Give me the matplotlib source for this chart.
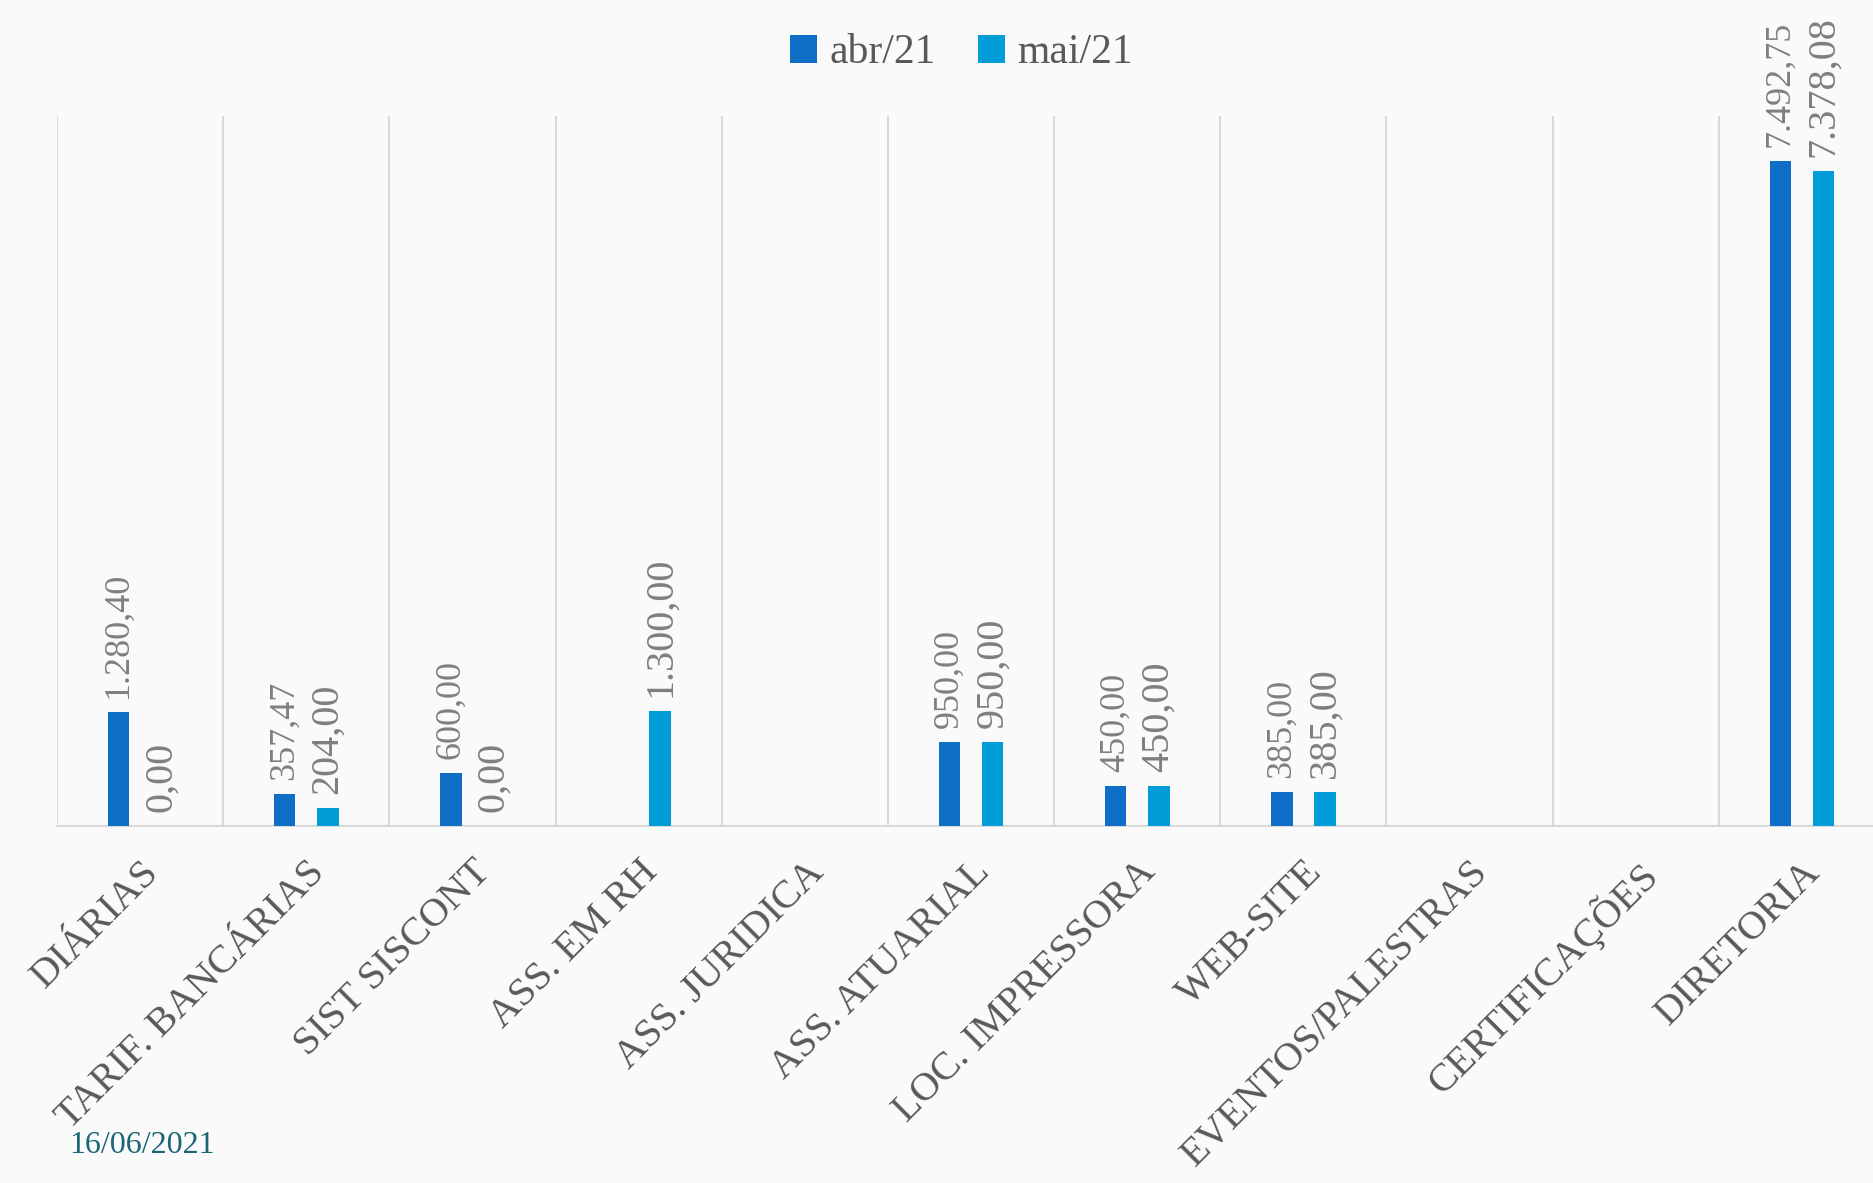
import matplotlib
matplotlib.use("Agg")
import matplotlib.pyplot as plt
import numpy as np

categories = ["DIÁRIAS", "TARIF. BANCÁRIAS", "SIST SISCONT", "ASS. EM RH", "ASS. JURIDICA",
              "ASS. ATUARIAL", "LOC. IMPRESSORA", "WEB-SITE", "EVENTOS/PALESTRAS",
              "CERTIFICAÇÕES", "DIRETORIA"]
abr_21 = [1280.40, 357.47, 600.00, None, None, 950.00, 450.00, 385.00, None, None, 7492.75]
mai_21 = [0.00, 204.00, 0.00, 1300.00, None, 950.00, 450.00, 385.00, None, None, 7378.08]
series_names = ["abr/21", "mai/21"]
date_text = "16/06/2021"

COLORS = ["#0F6FC6", "#009DD9"]
BG = "#FAFAFA"

plt.rcParams["font.family"] = ["Liberation Serif", "DejaVu Serif"]


def fmt_br(v):
    """Brazilian number format: 1.280,40"""
    s = f"{v:,.2f}"
    return s.replace(",", "X").replace(".", ",").replace("X", ".")


fig = plt.figure(figsize=(18.74, 11.83), dpi=100, facecolor=BG)
ax = fig.add_axes([0.0304, 0.3018, 0.9755, 0.6002], facecolor=BG)

x = np.arange(len(categories))
w = 0.13
for i, (vals, name, color) in enumerate(zip([abr_21, mai_21], series_names, COLORS)):
    heights = [np.nan if v is None else v for v in vals]
    bars = ax.bar(x + (i - 0.5) * 2 * w, heights, width=w, color=color, label=name, zorder=3)
    labels = ["" if v is None else fmt_br(v) for v in vals]
    ax.bar_label(bars, labels=labels, padding=10, rotation=90, color="#7F7F7F",
                 fontsize=26 if i == 0 else 29)

ax.set_xlim(-0.5, len(categories) - 0.5)
ax.set_ylim(0, 8000)
ax.set_yticks([])
ax.set_xticks(x)
ax.set_xticklabels(categories, rotation=45, ha="right", rotation_mode="anchor",
                   fontsize=29, color="#595959")
ax.tick_params(axis="x", length=0, pad=20)

# vertical separators between categories
ax.set_xticks(np.arange(-0.5, len(categories)), minor=True)
ax.tick_params(axis="x", which="minor", length=0)
ax.grid(axis="x", which="minor", color="#D9D9D9", linewidth=1.5, zorder=0)

for side in ["top", "left", "right"]:
    ax.spines[side].set_visible(False)
ax.spines["bottom"].set_color("#D9D9D9")
ax.spines["bottom"].set_linewidth(1.5)

fig.legend(loc="center", bbox_to_anchor=(0.513, 0.955), ncol=2, frameon=False,
           fontsize=30, labelcolor="#595959", handlelength=0.65, handleheight=0.65,
           handletextpad=0.3, columnspacing=1.0)

fig.text(0.0368, 0.032, date_text, color="#1B6575", fontsize=23, ha="left", va="center")

fig.savefig("out.png", dpi=100, facecolor=BG)
